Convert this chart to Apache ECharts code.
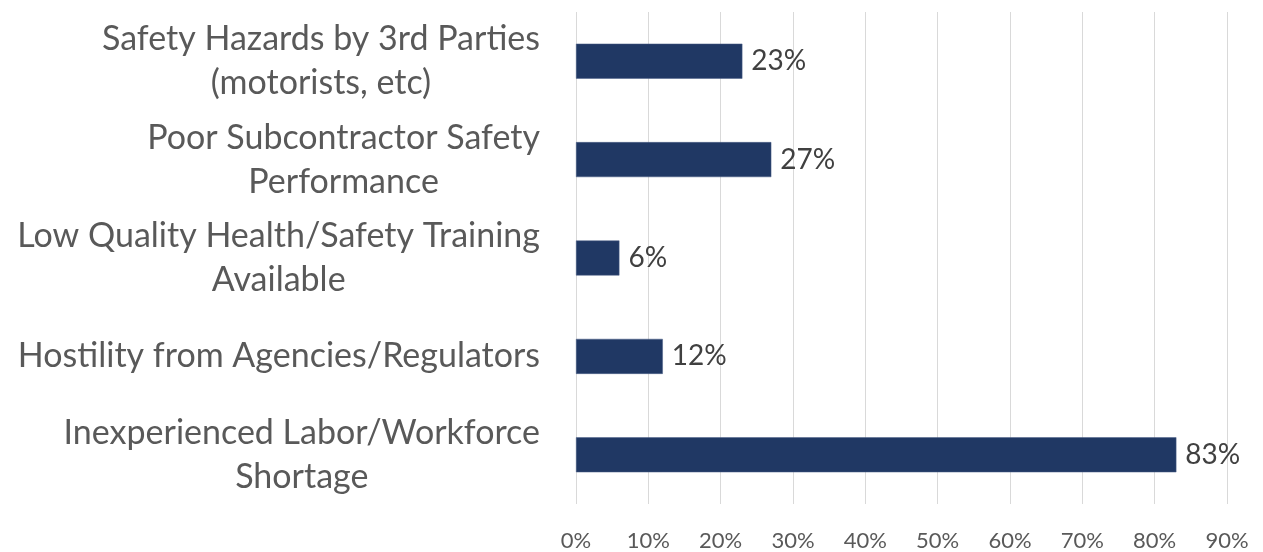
<!DOCTYPE html>
<html>
<head>
<meta charset="utf-8">
<script src="https://cdn.jsdelivr.net/npm/echarts@6/dist/echarts.min.js"></script>
<style>
  html, body { margin: 0; padding: 0; background: #fff; }
  #chart { width: 1263px; height: 552px; }
</style>
</head>
<body>
<div id="chart"></div>
<script>
// categories listed bottom to top (category axis runs upward)
var categories = [
    'Inexperienced Labor/Workforce\nShortage',
    'Hostility from Agencies/Regulators',
    'Low Quality Health/Safety Training\nAvailable',
    'Poor Subcontractor Safety\nPerformance',
    'Safety Hazards by 3rd Parties\n(motorists, etc)'
];
var percents = [83, 12, 6, 27, 23];
var tickValues = [0, 10, 20, 30, 40, 50, 60, 70, 80, 90];

var chart = echarts.init(document.getElementById('chart'));

chart.setOption({
    animation: false,
    grid: {
        left: 576,
        right: 36,
        top: 12,
        bottom: 47
    },
    xAxis: {
        type: 'value',
        min: tickValues[0],
        max: tickValues[tickValues.length - 1],
        interval: 10,
        axisLine: { show: false },
        axisTick: { show: false },
        splitLine: { lineStyle: { color: '#d9d9d9', width: 1 } },
        axisLabel: {
            color: '#595959',
            fontFamily: 'Lato',
            fontSize: 22,
            margin: 26,
            formatter: function(v) { return v + '%'; }
        }
    },
    yAxis: {
        type: 'category',
        data: categories,
        axisLine: { show: false },
        axisTick: { show: false },
        axisLabel: {
            align: 'right',
            margin: 36,
            // each line centred inside a right-anchored block
            formatter: function(v) {
                return v.split('\n').map(function(s) { return '{c|' + s + '}'; }).join('\n');
            },
            rich: {
                c: {
                    align: 'center',
                    color: '#595959',
                    fontFamily: 'Lato',
                    fontSize: 34,
                    lineHeight: 44
                }
            }
        }
    },
    series: [{
        type: 'bar',
        data: percents,
        barWidth: 35,
        itemStyle: { color: '#203864', borderColor: '#4a5f86', borderWidth: 0.5 },
        label: {
            show: true,
            position: 'right',
            distance: 9,
            color: '#404040',
            fontFamily: 'Lato',
            fontSize: 28,
            formatter: function(p) { return p.value + '%'; }
        }
    }]
});
</script>
</body>
</html>
